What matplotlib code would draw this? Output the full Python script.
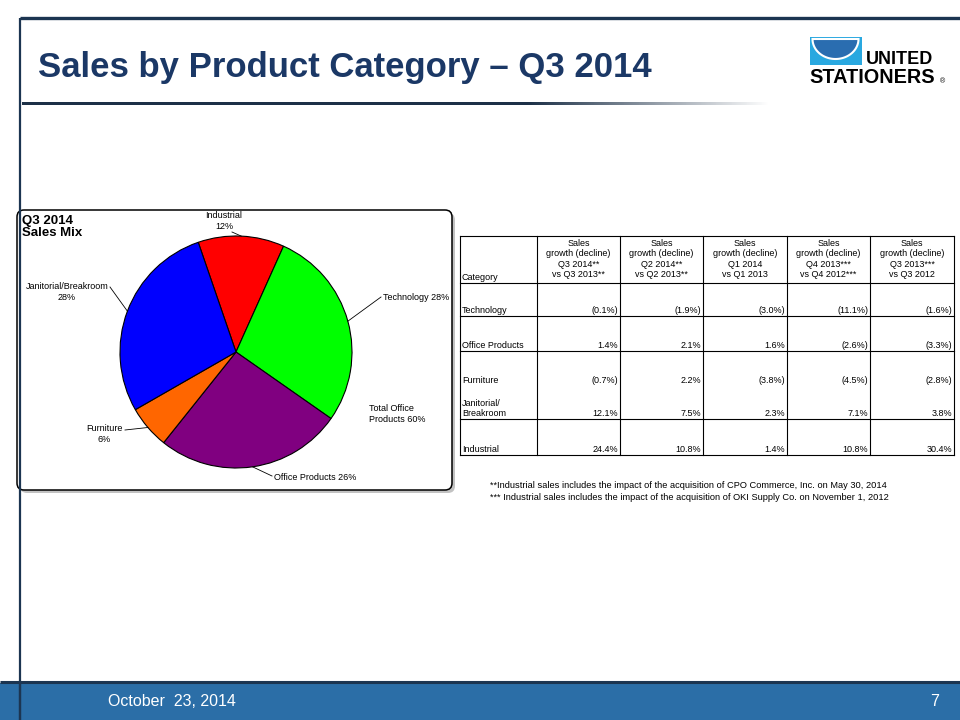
#!/usr/bin/env python3
"""
Slide: Sales by Product Category - Q3 2014
Pie of the sales mix + growth table
"""

import numpy as np
import matplotlib.pyplot as plt
from matplotlib.patches import FancyBboxPatch, Rectangle, Polygon

# Donnees du camembert
categories = ["Industrial", "Technology", "Office Products", "Furniture", "Janitorial/Breakroom"]
mix_pct = [12, 28, 26, 6, 28]
pie_colors = ["#ff0000", "#00ff00", "#800080", "#ff6600", "#0000ff"]

# Donnees du tableau
table_headers = [
    "Sales\ngrowth (decline)\nQ3 2014**\nvs Q3 2013**",
    "Sales\ngrowth (decline)\nQ2 2014**\nvs Q2 2013**",
    "Sales\ngrowth (decline)\nQ1 2014\nvs Q1 2013",
    "Sales\ngrowth (decline)\nQ4 2013***\nvs Q4 2012***",
    "Sales\ngrowth (decline)\nQ3 2013***\nvs Q3 2012",
]
table_rows = ["Technology", "Office Products", "Furniture", "Janitorial/\nBreakroom", "Industrial"]
growth_technology = [-0.1, -1.9, -3.0, -11.1, -1.6]
growth_office = [1.4, 2.1, 1.6, -2.6, -3.3]
growth_furniture = [-0.7, 2.2, -3.8, -4.5, -2.8]
growth_janitorial = [12.1, 7.5, 2.3, 7.1, 3.8]
growth_industrial = [24.4, 10.8, 1.4, 10.8, 30.4]
growth = [growth_technology, growth_office, growth_furniture, growth_janitorial, growth_industrial]

footnotes = [
    "**Industrial sales includes the impact of the acquisition of CPO Commerce, Inc. on May 30, 2014",
    "*** Industrial sales includes the impact of the acquisition of OKI Supply Co. on November 1, 2012",
]

W, H = 960, 720
NAVY = "#1c3551"
FONT = ["Liberation Sans", "DejaVu Sans"]


def Y(y):
    """Coordonnee image (haut = 0) vers coordonnee axes"""
    return H - y


def fmt(v):
    if v < 0:
        return "(%.1f%%)" % abs(v)
    return "%.1f%%" % v


plt.rcParams['font.family'] = FONT
fig = plt.figure(figsize=(9.6, 7.2), dpi=100)
ax = fig.add_axes([0, 0, 1, 1])

# --- cadre de la diapo ---
ax.plot([20, W], [Y(18), Y(18)], color=NAVY, lw=2.4, solid_capstyle='butt')
ax.plot([20, 20], [Y(18), 0], color=NAVY, lw=1.6, solid_capstyle='butt')

# titre
ax.text(38, Y(67), "Sales by Product Category \u2013 Q3 2014", fontsize=25,
        fontweight='bold', color="#1b3866", va='center', ha='left')

# ligne degradee sous le titre
xs = np.linspace(22, 770, 400)
alphas = np.clip((770 - xs) / (770 - 530), 0, 1)
grad = np.zeros((1, len(xs), 4))
grad[0, :, 0] = 0.11
grad[0, :, 1] = 0.19
grad[0, :, 2] = 0.28
grad[0, :, 3] = alphas
ax.imshow(grad, extent=[22, 770, Y(105.5), Y(102.5)], aspect='auto', interpolation='bilinear')

# logo
ax.add_patch(Rectangle((810, Y(65)), 52, 28, color="#29a8e0", lw=0))
t = np.linspace(np.pi, 2 * np.pi, 60)
bowl = np.column_stack([835.5 + 23 * np.cos(t), Y(39) + 20 * np.sin(t)])
ax.add_patch(Polygon(bowl, closed=True, facecolor="#2a6db0", edgecolor='white', lw=1.5))
ax.text(866, Y(60), "UNITED", fontsize=13, fontweight='bold', color='black',
        va='center', ha='left')
ax.text(809, Y(77.5), "STATIONERS", fontsize=14.3, fontweight='bold', color='black',
        va='center', ha='left')
ax.text(942, Y(82), "\u00ae", fontsize=5, color='black', va='center', ha='center')

# pied de page
ax.add_patch(Rectangle((0, 0), W, Y(683), color="#2b6ea7", lw=0))
ax.plot([0, W], [Y(682), Y(682)], color=NAVY, lw=2.2, solid_capstyle='butt')
ax.plot([20, 20], [0, Y(682)], color=NAVY, lw=1.6)
ax.text(108, Y(701), "October  23, 2014", fontsize=11.5, color='white',
        va='center', ha='left')
ax.text(935, Y(701), "7", fontsize=11.5, color='white', va='center', ha='center')

# --- boite du camembert ---
ax.add_patch(FancyBboxPatch((20, Y(493)), 435, 280, boxstyle="round,pad=0,rounding_size=7",
                            facecolor="#9a9a9a", edgecolor='none', alpha=0.6))
ax.add_patch(FancyBboxPatch((17, Y(490)), 435, 280, boxstyle="round,pad=0,rounding_size=7",
                            facecolor='white', edgecolor='black', lw=1.1))
ax.text(22, Y(227), "Q3 2014\nSales Mix", fontsize=9.5, fontweight='bold',
        va='center', ha='left', linespacing=1.0)

cx, cy, r = 236, Y(352), 116
wedges, _ = ax.pie(mix_pct, colors=pie_colors, startangle=109, counterclock=False,
                   center=(cx, cy), radius=r, frame=True,
                   wedgeprops=dict(edgecolor='black', linewidth=0.8))

# etiquettes + traits de rappel
label_pos = [(224, 221, 'center'), (383, 297, 'left'), (274, 477, 'left'),
             (104, 434, 'center'), (67, 292, 'center')]
line_end = [(232, 232), (381, 297), (272, 476), (125, 430), (110, 287)]
labels = []
for cat, p in zip(categories, mix_pct):
    if cat in ("Technology", "Office Products"):
        labels.append("%s %d%%" % (cat, p))
    else:
        labels.append("%s\n%d%%" % (cat, p))
for w, lab, (lx, ly, ha), (ex, ey) in zip(wedges, labels, label_pos, line_end):
    mid = np.radians((w.theta1 + w.theta2) / 2)
    px, py = cx + r * np.cos(mid), cy + r * np.sin(mid)
    ax.plot([ex, px], [Y(ey), py], color='black', lw=0.6)
    ax.text(lx, Y(ly), lab, fontsize=6.5, ha=ha, va='center', linespacing=1.15)

ax.text(369, Y(414), "Total Office\nProducts %d%%" % (mix_pct[1] + mix_pct[2] + mix_pct[3]),
        fontsize=6.5, ha='left', va='center', linespacing=1.15)

# --- tableau ---
col_x = [460, 537, 620, 703, 787, 870, 954]
row_lines = [236, 283, 316, 351, 419, 455]
for x in col_x:
    ax.plot([x, x], [Y(236), Y(455)], color='black', lw=0.8)
for y in row_lines:
    ax.plot([460, 954], [Y(y), Y(y)], color='black', lw=0.8)

ax.text(462, Y(280), "Category", fontsize=6.5, ha='left', va='baseline')
for i, head in enumerate(table_headers):
    xc = (col_x[i + 1] + col_x[i + 2]) / 2
    ax.text(xc, Y(259), head, fontsize=6.5, ha='center', va='center', linespacing=1.2)

row_base = [313, 348, 383, 416, 452]
for name, vals, yb in zip(table_rows, growth, row_base):
    ax.text(462, Y(yb), name, fontsize=6.5, ha='left', va='baseline', linespacing=1.2)
    for j, v in enumerate(vals):
        ax.text(col_x[j + 2] - 2, Y(yb), fmt(v), fontsize=6.5, ha='right', va='baseline')

for k, note in enumerate(footnotes):
    ax.text(490, Y(486 + 11 * k), note, fontsize=6.7, ha='left', va='center')

ax.set_xlim(0, W)
ax.set_ylim(0, H)
ax.axis('off')

plt.savefig('out.png', dpi=100)
print("saved out.png")
